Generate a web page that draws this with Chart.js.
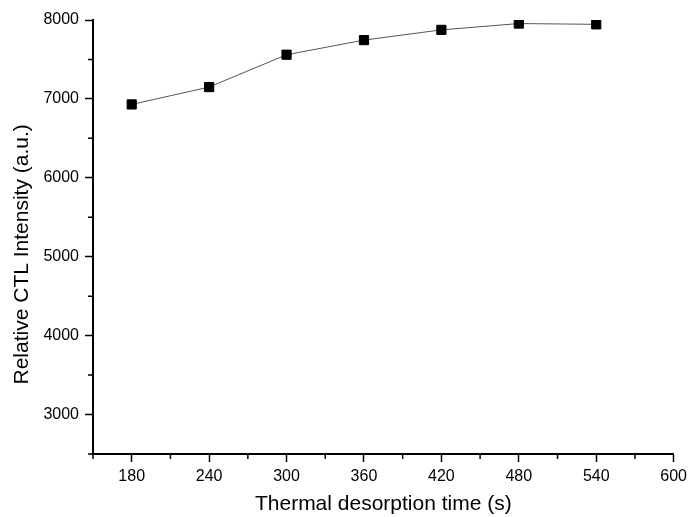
<!DOCTYPE html>
<html>
<head>
<meta charset="utf-8">
<script src="https://cdn.jsdelivr.net/npm/chart.js@4/dist/chart.umd.min.js"></script>
<style>
  html, body { margin: 0; padding: 0; background: #fff; }
  #wrap { width: 692px; height: 517px; }
</style>
</head>
<body>
<div id="wrap"><canvas id="ctl-chart"></canvas></div>
<script>
// data
const times = [180, 240, 300, 360, 420, 480, 540];
const intensity = [6930, 7150, 7560, 7745, 7875, 7955, 7945];
const xMajorTicks = [180, 240, 300, 360, 420, 480, 540, 600];
const xMinorTicks = [150, 210, 270, 330, 390, 450, 510, 570];
const yMajorTicks = [3000, 4000, 5000, 6000, 7000, 8000];
const yMinorTicks = [2500, 3500, 4500, 5500, 6500, 7500];
const yTitle = 'Relative CTL Intensity (a.u.)';

const font = "'Liberation Sans', Arial, sans-serif";

// minor ticks + the y title (which sits a bit below the axis centre in the original)
const extras = {
    id: 'extras',
    afterDraw(chart) {
        const ctx = chart.ctx;
        const x = chart.scales.x, y = chart.scales.y;
        ctx.save();
        ctx.strokeStyle = '#000';
        ctx.lineWidth = 1.5;
        ctx.beginPath();
        xMinorTicks.forEach(v => {
            const px = x.getPixelForValue(v);
            ctx.moveTo(px, x.top);
            ctx.lineTo(px, x.top + 5);
        });
        yMinorTicks.forEach(v => {
            const py = y.getPixelForValue(v);
            ctx.moveTo(y.right, py);
            ctx.lineTo(y.right - 5, py);
        });
        ctx.stroke();

        ctx.translate(22, y.getPixelForValue(5030));
        ctx.rotate(-Math.PI / 2);
        ctx.fillStyle = '#000';
        ctx.font = '21px ' + font;
        ctx.textAlign = 'center';
        ctx.textBaseline = 'middle';
        ctx.fillText(yTitle, 0, 0);
        ctx.restore();
    }
};

new Chart(document.getElementById('ctl-chart'), {
    type: 'line',
    data: {
        datasets: [{
            data: times.map((t, i) => ({x: t, y: intensity[i]})),
            borderColor: '#555',
            borderWidth: 1,
            pointStyle: 'rect',
            pointRadius: 6.5,
            pointBackgroundColor: '#000',
            pointBorderColor: '#000',
            pointBorderWidth: 1,
            tension: 0
        }]
    },
    options: {
        responsive: true,
        maintainAspectRatio: false,
        animation: false,
        layout: { padding: { top: 20, right: 13, left: 0, bottom: 0 } },
        plugins: { legend: { display: false }, tooltip: { enabled: false } },
        scales: {
            x: {
                type: 'linear',
                min: 150,
                max: 600,
                afterBuildTicks: s => { s.ticks = xMajorTicks.map(v => ({value: v})); },
                afterFit: s => { s.height = 63; },
                grid: { drawOnChartArea: false, tickLength: 8, tickWidth: 1.5, tickColor: '#000' },
                border: { color: '#000', width: 2 },
                ticks: { color: '#000', font: { family: font, size: 16 }, padding: 5, maxRotation: 0,
                         callback: v => String(v) },
                title: { display: true, text: 'Thermal desorption time (s)', color: '#000',
                         font: { family: font, size: 21 }, padding: { top: 6, bottom: 0 } }
            },
            y: {
                min: 2500,
                max: 8000,
                afterBuildTicks: s => { s.ticks = yMajorTicks.map(v => ({value: v})); },
                afterFit: s => { s.width = 93; },
                grid: { drawOnChartArea: false, tickLength: 8, tickWidth: 1.5, tickColor: '#000' },
                border: { color: '#000', width: 2 },
                ticks: { color: '#000', font: { family: font, size: 16 }, padding: 6,
                         callback: v => String(v) }
            }
        }
    },
    plugins: [extras]
});
</script>
</body>
</html>
